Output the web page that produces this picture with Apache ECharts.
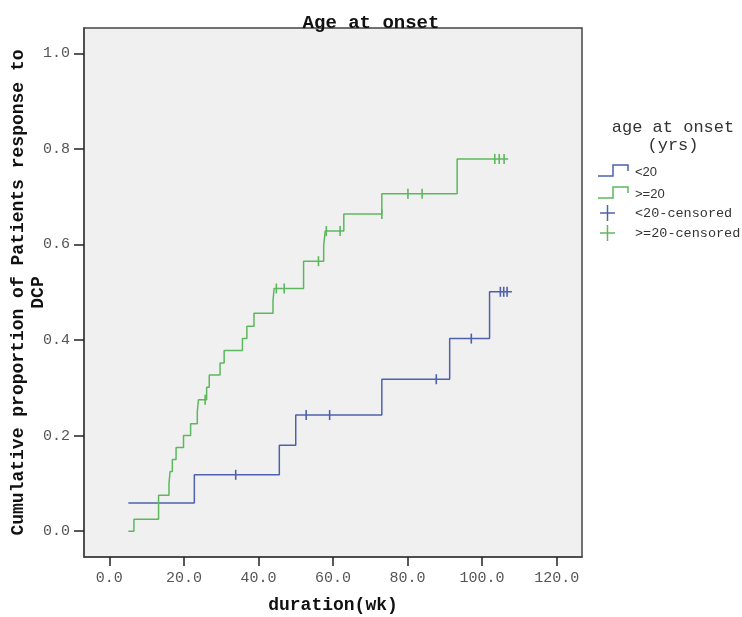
<!DOCTYPE html>
<html>
<head>
<meta charset="utf-8">
<script src="https://cdn.jsdelivr.net/npm/echarts@6/dist/echarts.min.js"></script>
<style>
  html, body { margin: 0; padding: 0; background: #ffffff; }
  #chart { width: 742px; height: 617px; }
</style>
</head>
<body>
<div id="chart"></div>
<script>
// tick labels
const xTicks = [0, 20, 40, 60, 80, 100, 120];
const yTicks = [0, 0.2, 0.4, 0.6, 0.8, 1.0];

// <20 group: step curve (time, cumulative proportion)
const lt20Time = [5.1, 22.8, 45.6, 50.0, 73.1, 91.3, 102.0, 108.0];
const lt20Cum = [0.059, 0.118, 0.180, 0.243, 0.318, 0.403, 0.501, 0.501];
// <20 censored
const lt20CensTime = [33.9, 52.8, 59.1, 87.7, 97.1, 104.9, 105.8, 106.7];
const lt20CensCum = [0.118, 0.243, 0.243, 0.318, 0.403, 0.501, 0.501, 0.501];

// >=20 group
const ge20Time = [5.1, 6.6, 13.2, 16.0, 16.3, 16.9, 17.9, 19.9, 21.8, 23.6, 23.9, 26.1, 26.8, 29.7, 30.8,
  35.7, 36.9, 38.8, 43.9, 44.2, 52.1, 57.5, 57.9, 62.9, 73.1, 93.3, 107.0];
const ge20Cum = [0, 0.025, 0.075, 0.100, 0.125, 0.150, 0.175, 0.200, 0.225, 0.250, 0.275, 0.301, 0.327, 0.352, 0.378,
  0.403, 0.429, 0.456, 0.482, 0.508, 0.565, 0.597, 0.628, 0.664, 0.706, 0.779, 0.779];
// >=20 censored
const ge20CensTime = [25.7, 44.8, 46.9, 56.1, 58.2, 61.9, 73.1, 80.1, 83.9, 103.4, 104.6, 105.9];
const ge20CensCum = [0.275, 0.508, 0.508, 0.565, 0.628, 0.628, 0.664, 0.706, 0.706, 0.779, 0.779, 0.779];

const BLUE = '#4f61ad';
const GREEN = '#5cb85c';
const MONO = "'Liberation Mono', 'DejaVu Sans Mono', monospace";

function pairs(xs, ys) {
  return xs.map((x, i) => [x, ys[i]]);
}

const myChart = echarts.init(document.getElementById('chart'));

// legend drawn by hand, SPSS style
function stepIcon(y, color) {
  return {
    type: 'polyline',
    shape: { points: [[598, y + 5], [613, y + 5], [613, y - 6], [628, y - 6], [628, y]] },
    style: { stroke: color, lineWidth: 1.5, fill: null }
  };
}
function plusIcon(y, color) {
  return [
    { type: 'line', shape: { x1: 600, y1: y, x2: 615, y2: y }, style: { stroke: color, lineWidth: 1.5 } },
    { type: 'line', shape: { x1: 607.5, y1: y - 8, x2: 607.5, y2: y + 8 }, style: { stroke: color, lineWidth: 1.5 } }
  ];
}
function legendText(y, txt, font) {
  return {
    type: 'text', x: 635, y: y,
    style: { text: txt, font: font, fill: '#333', verticalAlign: 'middle' }
  };
}

var option = {
  backgroundColor: '#ffffff',
  title: {
    text: 'Age at onset',
    left: 'center',
    top: 9,
    textStyle: { fontFamily: MONO, fontSize: 19, fontWeight: 'bold', color: '#111' }
  },
  grid: {
    left: 84, right: 160, top: 28, bottom: 60,
    outerBoundsMode: 'none',
    show: true,
    backgroundColor: '#f0f0f0',
    borderColor: '#444',
    borderWidth: 1.5
  },
  xAxis: {
    type: 'value',
    min: -6.8,
    max: 126.8,
    name: 'duration(wk)',
    nameLocation: 'middle',
    nameGap: 39,
    nameMoveOverlap: false,
    nameTextStyle: { fontFamily: MONO, fontSize: 18, fontWeight: 'bold', color: '#111' },
    axisLine: { show: true, onZero: false, lineStyle: { color: '#444', width: 1.5 } },
    axisTick: { show: true, customValues: xTicks, length: 9, lineStyle: { color: '#222', width: 1.5 } },
    axisLabel: {
      customValues: xTicks, margin: 14, color: '#555', fontFamily: MONO, fontSize: 15,
      formatter: v => v.toFixed(1)
    },
    splitLine: { show: false }
  },
  yAxis: {
    type: 'value',
    min: -0.054,
    max: 1.053,
    name: 'Cumulative proportion of Patients response to\nDCP',
    nameLocation: 'middle',
    nameGap: 36,
    nameMoveOverlap: false,
    nameTextStyle: { fontFamily: MONO, fontSize: 18, fontWeight: 'bold', color: '#111', lineHeight: 20 },
    axisLine: { show: true, onZero: false, lineStyle: { color: '#444', width: 1.5 } },
    axisTick: { show: true, customValues: yTicks, length: 10, lineStyle: { color: '#222', width: 1.5 } },
    axisLabel: {
      customValues: yTicks, margin: 14, color: '#555', fontFamily: MONO, fontSize: 15,
      formatter: v => v.toFixed(1)
    },
    splitLine: { show: false }
  },
  series: [
    {
      name: '<20', type: 'line', step: 'end', showSymbol: false, silent: true,
      data: pairs(lt20Time, lt20Cum),
      lineStyle: { color: BLUE, width: 1.5 }, itemStyle: { color: BLUE }
    },
    {
      name: '>=20', type: 'line', step: 'end', showSymbol: false, silent: true,
      data: pairs(ge20Time, ge20Cum),
      lineStyle: { color: GREEN, width: 1.5 }, itemStyle: { color: GREEN }
    },
    {
      name: '<20-censored', type: 'scatter', symbol: 'rect', symbolSize: [1.6, 10], silent: true,
      data: pairs(lt20CensTime, lt20CensCum), itemStyle: { color: BLUE, opacity: 1 }
    },
    {
      name: '>=20-censored', type: 'scatter', symbol: 'rect', symbolSize: [1.6, 10], silent: true,
      data: pairs(ge20CensTime, ge20CensCum), itemStyle: { color: GREEN, opacity: 1 }
    }
  ],
  graphic: [
    {
      type: 'text', x: 673, y: 127,
      style: { text: 'age at onset', font: '17px ' + MONO, fill: '#333', align: 'center', verticalAlign: 'middle' }
    },
    {
      type: 'text', x: 673, y: 145,
      style: { text: '(yrs)', font: '17px ' + MONO, fill: '#333', align: 'center', verticalAlign: 'middle' }
    },
    stepIcon(171, BLUE),
    legendText(172, '<20', "13px 'Liberation Sans', Arial, sans-serif"),
    stepIcon(193, GREEN),
    legendText(194, '>=20', "13px 'Liberation Sans', Arial, sans-serif"),
    ...plusIcon(213, BLUE),
    legendText(213, '<20-censored', '13.5px ' + MONO),
    ...plusIcon(233, GREEN),
    legendText(233, '>=20-censored', '13.5px ' + MONO)
  ]
};

myChart.setOption(option);
</script>
</body>
</html>
